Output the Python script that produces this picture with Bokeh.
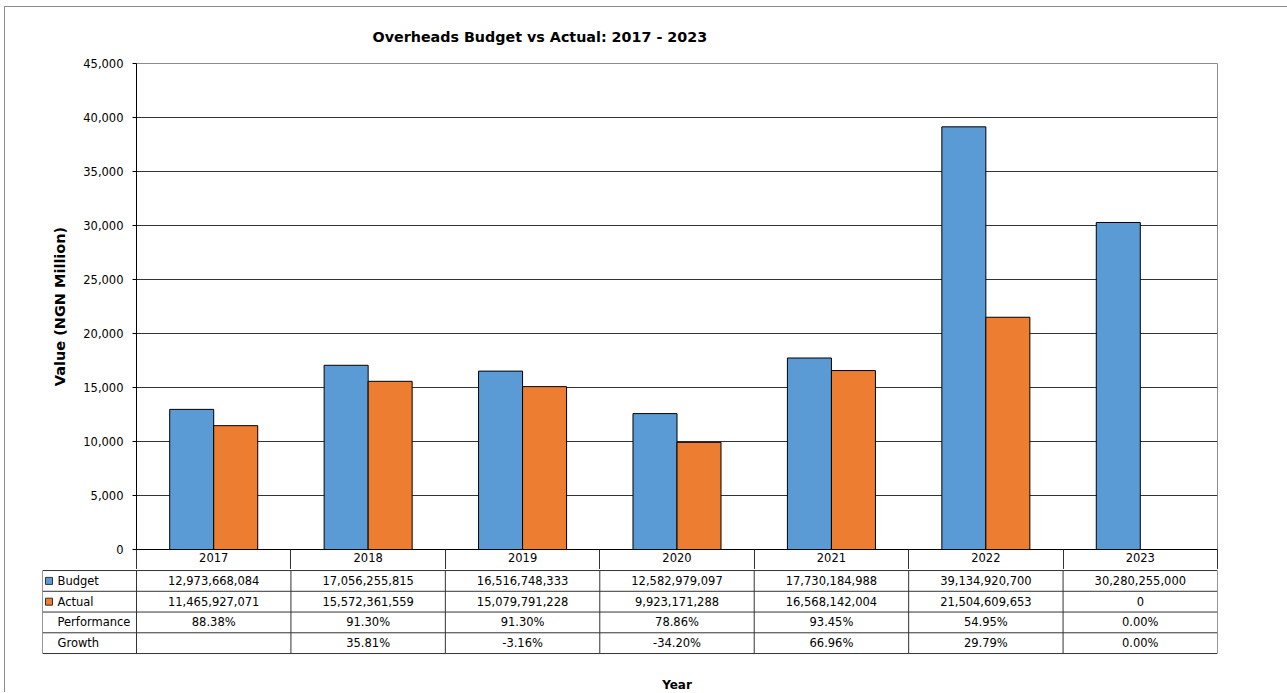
from bokeh.plotting import figure
from bokeh.models import Range1d, FixedTicker, NumeralTickFormatter, ColumnDataSource
from bokeh.layouts import column
from bokeh.embed import file_html
from bokeh.resources import INLINE
from bokeh.core.properties import value

# ---------------- data ----------------
years = ["2017", "2018", "2019", "2020", "2021", "2022", "2023"]
budget_ngn = [12973668084, 17056255815, 16516748333, 12582979097, 17730184988, 39134920700, 30280255000]
actual_ngn = [11465927071, 15572361559, 15079791228, 9923171288, 16568142004, 21504609653, 0]
performance = ["88.38%", "91.30%", "91.30%", "78.86%", "93.45%", "54.95%", "0.00%"]
growth = ["", "35.81%", "-3.16%", "-34.20%", "66.96%", "29.79%", "0.00%"]
y_ticks = [0, 5000, 10000, 15000, 20000, 25000, 30000, 35000, 40000, 45000]
row_labels = ["Budget", "Actual", "Performance", "Growth"]

# ---------------- style ----------------
FONT = "DejaVu Sans"
BLUE = "#5B9BD5"
ORANGE = "#ED7D31"
LINE = "#333333"
GRAY = "#8c8c8c"
TXT = "11.5px"

n = len(years)
idx = list(range(n))
budget_m = [v / 1e6 for v in budget_ngn]
actual_m = [v / 1e6 for v in actual_ngn]
BAR_W = 0.285

# ---------------- chart ----------------
pa = figure(width=1282, height=562, x_range=Range1d(-0.5, n - 0.5), y_range=Range1d(0, 45000),
            output_backend="svg", toolbar_location=None,
            min_border_left=131, min_border_right=70, min_border_top=56, min_border_bottom=20)
pa.frame_align = False

src = ColumnDataSource(dict(idx=idx, budget=budget_m, actual=actual_m,
                            xb=[i - BAR_W / 2 for i in idx], xa=[i + BAR_W / 2 for i in idx]))
pa.vbar(x="xb", top="budget", width=BAR_W, source=src, fill_color=BLUE, line_color="black", line_width=1)
pa.vbar(x="xa", top="actual", width=BAR_W, source=src, fill_color=ORANGE, line_color="black", line_width=1)

pa.title.text = "Overheads Budget vs Actual: 2017 - 2023"
pa.title.align = "left"
pa.title.offset = 236
pa.title.standoff = 38
pa.title.text_font = FONT
pa.title.text_font_size = "14.3px"
pa.title.text_font_style = "bold"
pa.title.text_color = "black"

pa.xgrid.visible = False
pa.ygrid.ticker = FixedTicker(ticks=y_ticks)
pa.ygrid.grid_line_color = LINE
pa.ygrid.grid_line_width = 1
pa.outline_line_color = GRAY
pa.outline_line_width = 1

ya = pa.yaxis[0]
ya.ticker = FixedTicker(ticks=y_ticks)
ya.formatter = NumeralTickFormatter(format="0,0")
ya.axis_line_color = "black"
ya.major_tick_line_color = "black"
ya.major_tick_in = 0
ya.major_tick_out = 4
ya.minor_tick_line_color = None
ya.major_label_standoff = 9
ya.major_label_text_font = FONT
ya.major_label_text_font_size = TXT
ya.major_label_text_color = "black"
ya.axis_label = "Value (NGN Million)"
ya.axis_label_text_font = FONT
ya.axis_label_text_font_size = "14.5px"
ya.axis_label_text_font_style = "bold"
ya.axis_label_text_color = "black"
ya.axis_label_standoff = 12

xa = pa.xaxis[0]
xa.ticker = FixedTicker(ticks=idx, minor_ticks=[i - 0.5 for i in range(n + 1)])
xa.major_label_overrides = {i: years[i] for i in idx}
xa.axis_line_color = "black"
xa.major_tick_in = 0
xa.major_tick_out = 0
xa.minor_tick_in = 0
xa.minor_tick_out = 20
xa.minor_tick_line_color = LINE
xa.major_label_standoff = -17
xa.major_label_text_font = FONT
xa.major_label_text_font_size = TXT
xa.major_label_text_color = "black"

# ---------------- data table ----------------
COL_PX = 1081 / n
LEFT_COL = 94 / COL_PX
ROW_PX = 20.75
HB = 123
span = HB / ROW_PX
x_left = -0.5 - LEFT_COL

pb = figure(width=1282, height=HB, x_range=Range1d(x_left, n - 0.5),
            y_range=Range1d(0.05 - span, 0.05),
            output_backend="svg", toolbar_location=None,
            min_border_left=37, min_border_right=70, min_border_top=0, min_border_bottom=0)
pb.frame_align = False
pb.axis.visible = False
pb.grid.visible = False
pb.outline_line_color = None

nrows = len(row_labels)
x0s, y0s, x1s, y1s = [], [], [], []
for r in range(nrows + 1):
    x0s.append(x_left); x1s.append(n - 0.5); y0s.append(-r); y1s.append(-r)
for c in [x_left] + [i - 0.5 for i in range(n + 1)]:
    x0s.append(c); x1s.append(c); y0s.append(0); y1s.append(-nrows)
pb.segment(x0=x0s, y0=y0s, x1=x1s, y1=y1s, line_color=LINE, line_width=1)

rows = [[f"{v:,}" for v in budget_ngn], [f"{v:,}" for v in actual_ngn], performance, growth]
tx, ty, tt = [], [], []
for r, vals in enumerate(rows):
    for i in idx:
        tx.append(i); ty.append(-r - 0.5); tt.append(vals[i])
pb.text(x=tx, y=ty, text=tt, text_align="center", text_baseline="middle",
        text_font=value(FONT), text_font_size=TXT, text_color="black")

lab_x = x_left + 15 / COL_PX
pb.text(x=[lab_x] * nrows, y=[-r - 0.5 for r in range(nrows)], text=row_labels,
        text_align="left", text_baseline="middle",
        text_font=value(FONT), text_font_size=TXT, text_color="black")
sw_x = x_left + 6.5 / COL_PX
pb.scatter(x=[sw_x, sw_x], y=[-0.5, -1.5], marker="square", size=7,
           fill_color=[BLUE, ORANGE], line_color="#333333", line_width=1)

pb.text(x=[(n - 1) / 2], y=[-(683 - 569) / ROW_PX], text=["Year"], text_align="center",
        text_baseline="middle", text_font=value(FONT), text_font_size="12px",
        text_font_style="bold", text_color="black")

layout = column(pa, pb, margin=(6, 0, 0, 4),
                styles={"border-left": "1px solid #8c8c8c", "border-top": "1px solid #8c8c8c"})

open("out.html", "w").write(file_html(layout, INLINE))
